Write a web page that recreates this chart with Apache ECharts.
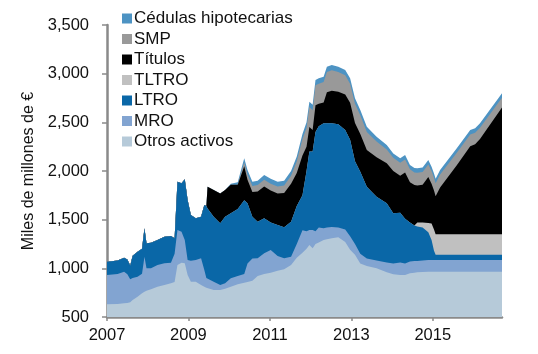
<!DOCTYPE html>
<html>
<head>
<meta charset="utf-8">
<script src="https://cdn.jsdelivr.net/npm/echarts@6/dist/echarts.min.js"></script>
<style>
  html, body { margin: 0; padding: 0; background: #fff; }
  #chart { width: 538px; height: 354px; }
</style>
</head>
<body>
<div id="chart"></div>
<script>
// fechas (años decimales)
const years = [
  2007.00, 2007.26, 2007.42, 2007.50, 2007.57, 2007.63, 2007.75, 2007.86, 2007.92, 2007.97,
  2008.08, 2008.24, 2008.41, 2008.57, 2008.66, 2008.73, 2008.83, 2008.91, 2008.98, 2009.06,
  2009.18, 2009.31, 2009.39, 2009.44, 2009.47, 2009.62, 2009.78, 2009.90, 2010.04, 2010.21,
  2010.37, 2010.45, 2010.57, 2010.70, 2010.86, 2011.02, 2011.19, 2011.35, 2011.52, 2011.66,
  2011.80, 2011.90, 2011.97, 2012.05, 2012.12, 2012.20, 2012.32, 2012.40, 2012.52, 2012.68,
  2012.85, 2012.97, 2013.09, 2013.22, 2013.38, 2013.62, 2013.87, 2014.03, 2014.20, 2014.32,
  2014.44, 2014.55, 2014.62, 2014.75, 2014.89, 2014.97, 2015.03, 2015.07, 2015.18, 2015.59,
  2015.92, 2016.04, 2016.16, 2016.70
];

// miles de millones de €
const otros = [
  630, 633, 640, 645, 652, 675, 709, 745, 760, 770,
  784, 812, 829, 846, 860, 1034, 1058, 1051, 931, 863,
  863, 830, 812, 800, 795, 777, 777, 790, 812, 836,
  853, 860, 873, 921, 942, 955, 976, 990, 1034, 1110,
  1160, 1200, 1240, 1206, 1250, 1265, 1291, 1300, 1308, 1320,
  1270, 1190, 1140, 1050, 1025, 1000, 960, 940, 932, 932,
  949, 955, 959, 962, 966, 966, 966, 966, 966, 966,
  966, 966, 966, 966
];
const mro = [
  302, 309, 326, 295, 235, 225, 205, 200, 360, 230,
  216, 222, 222, 212, 290, 360, 319, 240, 155, 216,
  223, 273, 171, 100, 85, 86, 52, 56, 85, 85,
  89, 190, 227, 182, 212, 233, 151, 113, 86, 140,
  230, 180, 154, 188, 130, 155, 120, 120, 117, 100,
  130, 140, 110, 100, 75, 80, 100, 110, 128, 118,
  121, 120, 116, 118, 119, 119, 119, 119, 119, 119,
  119, 119, 119, 119
];
const ltro = [
  136, 138, 144, 150, 143, 230, 257, 255, 291, 257,
  264, 257, 274, 274, 158, 496, 496, 623, 616, 469,
  428, 428, 668, 740, 736, 668, 633, 685, 668, 689,
  758, 618, 431, 376, 360, 282, 318, 318, 359, 390,
  360, 620, 806, 806, 1020, 1040, 1079, 1070, 1065, 1060,
  1021, 990, 850, 843, 739, 656, 608, 515, 510, 460,
  400, 365, 355, 340, 285, 205, 95, 55, 55, 55,
  55, 55, 55, 55
];
const tltro = [
  0, 0, 0, 0, 0, 0, 0, 0, 0, 0,
  0, 0, 0, 0, 0, 0, 0, 0, 0, 0,
  0, 0, 0, 0, 0, 0, 0, 0, 0, 0,
  0, 0, 0, 0, 0, 0, 0, 0, 0, 0,
  0, 0, 0, 0, 0, 0, 0, 0, 0, 0,
  0, 0, 0, 0, 0, 0, 0, 0, 0, 0,
  0, 0, 40, 50, 95, 170, 220, 210, 210, 210,
  210, 210, 210, 210
];
const titulos = [
  0, 0, 0, 0, 0, 0, 0, 0, 0, 0,
  0, 0, 0, 0, 0, 0, 0, 0, 0, 0,
  0, 0, 0, 0, 223, 274, 308, 274, 295, 250,
  350, 242, 254, 311, 326, 330, 325, 354, 391, 340,
  410, 250, 252, 220, 275, 230, 215, 320, 335, 335,
  364, 380, 392, 387, 376, 404, 412, 435, 380, 475,
  415, 415, 382, 390, 473, 409, 400, 390, 480, 710,
  905, 925, 980, 1303
];
const smp = [
  0, 0, 0, 0, 0, 0, 0, 0, 0, 0,
  0, 0, 0, 0, 0, 0, 0, 0, 0, 0,
  0, 0, 0, 0, 0, 0, 0, 0, 0, 0,
  40, 55, 60, 65, 70, 70, 70, 75, 80, 120,
  170, 195, 205, 205, 205, 207, 209, 207, 209, 202,
  198, 197, 200, 192, 185, 163, 142, 136, 135, 134,
  132, 130, 130, 130, 130, 130, 130, 135, 135, 128,
  121, 118, 115, 100
];
const cedulas = [
  0, 0, 0, 0, 0, 0, 0, 0, 0, 0,
  0, 0, 0, 0, 0, 0, 0, 0, 0, 0,
  0, 0, 0, 0, 0, 0, 0, 0, 10, 25,
  40, 45, 45, 45, 50, 50, 50, 50, 50, 50,
  50, 55, 55, 55, 55, 55, 55, 55, 55, 55,
  55, 55, 55, 55, 55, 50, 45, 45, 45, 45,
  45, 45, 45, 45, 45, 45, 45, 45, 45, 45,
  45, 45, 45, 45
];

const yearTicks = [2007, 2009, 2011, 2013, 2015];

const font = 'Liberation Sans, Arial, sans-serif';
const axisGrey = '#8a8a8a';

// capas de abajo hacia arriba
const layers = [
  { name: 'Otros activos', data: otros, color: '#b6cad9' },
  { name: 'MRO', data: mro, color: '#82a4d1' },
  { name: 'LTRO', data: ltro, color: '#0a67a7' },
  { name: 'TLTRO', data: tltro, color: '#c0c0c0' },
  { name: 'Títulos', data: titulos, color: '#000000' },
  { name: 'SMP', data: smp, color: '#999999' },
  { name: 'Cédulas hipotecarias', data: cedulas, color: '#4d93c3' }
];

// apilado a mano: cada serie es el techo acumulado, se pinta de arriba hacia abajo
let running = years.map(() => 0);
const stacked = layers.map(l => {
  running = running.map((v, i) => v + l.data[i]);
  return { name: l.name, color: l.color, top: running.slice() };
});

const series = stacked.slice().reverse().map(s => ({
  name: s.name,
  type: 'line',
  data: years.map((y, i) => [y, s.top[i]]),
  symbol: 'none',
  showSymbol: false,
  lineStyle: { width: 0 },
  areaStyle: { color: s.color, opacity: 1 },
  itemStyle: { color: s.color },
  emphasis: { disabled: true }
}));

const chart = echarts.init(document.getElementById('chart'));

const option = {
  animation: false,
  textStyle: { fontFamily: font },
  grid: { left: 107, right: 36, top: 25, bottom: 37 },
  legend: {
    orient: 'vertical',
    left: 122,
    top: 10,
    icon: 'rect',
    itemWidth: 10,
    itemHeight: 10,
    itemGap: 3.5,
    padding: 0,
    textStyle: { fontSize: 17, color: '#111', fontFamily: font, padding: [0, 0, 0, -3] },
    data: ['Cédulas hipotecarias', 'SMP', 'Títulos', 'TLTRO', 'LTRO', 'MRO', 'Otros activos']
  },
  xAxis: {
    type: 'value',
    min: 2007,
    max: 2016.7,
    splitLine: { show: false },
    axisLine: { lineStyle: { color: axisGrey, width: 2.5 } },
    axisTick: { customValues: yearTicks, length: 4, lineStyle: { color: axisGrey, width: 1.5 } },
    axisLabel: {
      customValues: yearTicks,
      formatter: v => String(v),
      fontSize: 16.5, color: '#111', margin: 10, fontFamily: font
    }
  },
  yAxis: {
    type: 'value',
    min: 500,
    max: 3500,
    interval: 500,
    name: 'Miles de millones de €',
    nameLocation: 'middle',
    nameRotate: 90,
    nameGap: 70,
    nameTextStyle: { fontSize: 16, color: '#111', fontFamily: font },
    splitLine: { show: false },
    axisLine: { show: true, lineStyle: { color: axisGrey, width: 2.5 } },
    axisTick: { show: true, length: 5, lineStyle: { color: axisGrey, width: 1.5 } },
    axisLabel: {
      formatter: v => v.toLocaleString('en-US'),
      fontSize: 16.5, color: '#111', margin: 18, fontFamily: font
    }
  },
  series: series
};

chart.setOption(option);
</script>
</body>
</html>
